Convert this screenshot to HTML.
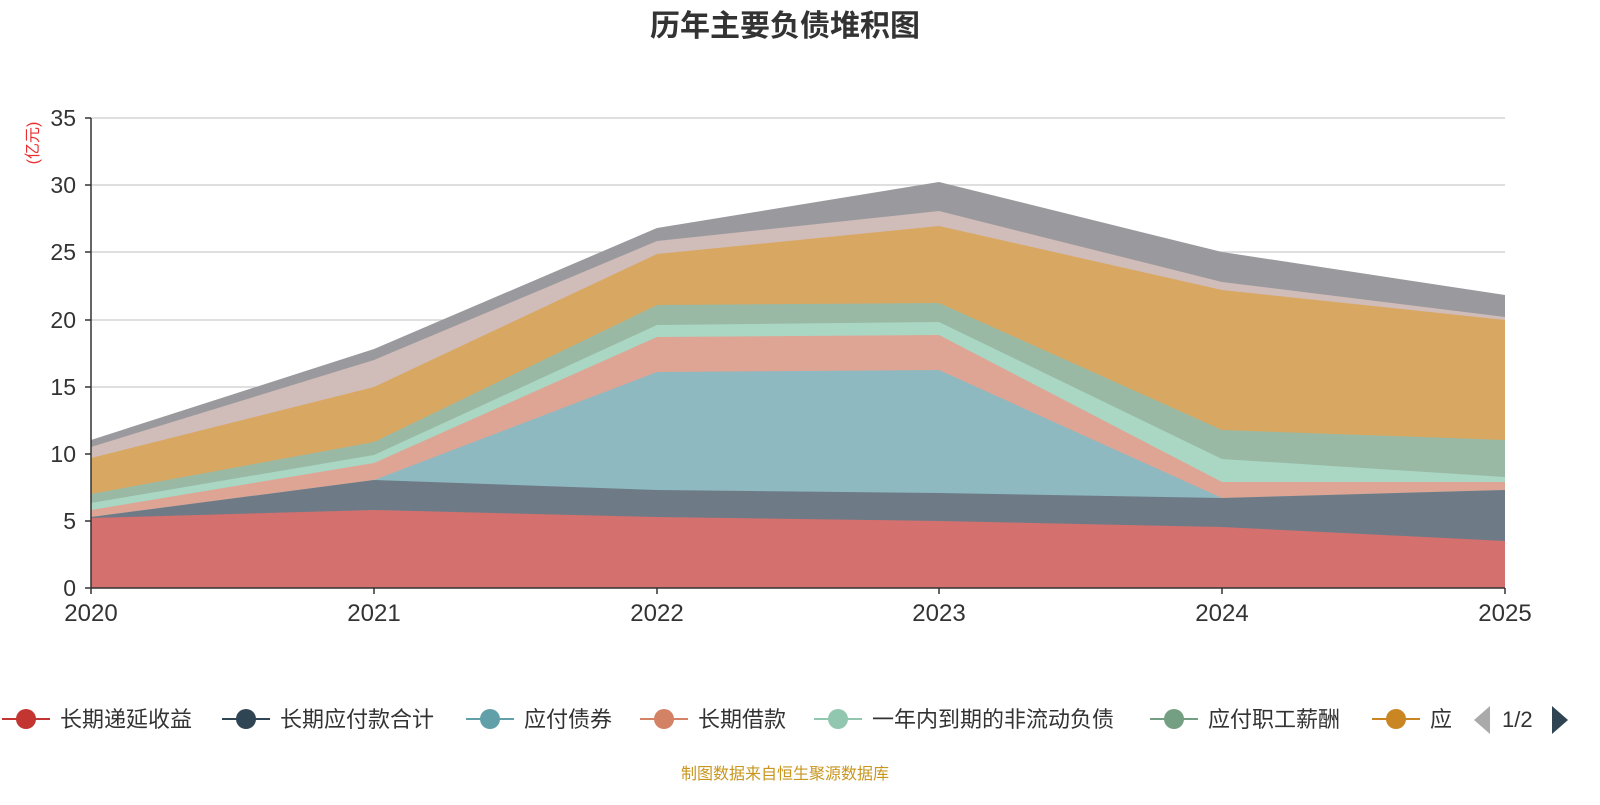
<!DOCTYPE html>
<html><head><meta charset="utf-8"><style>
body{margin:0;background:#fff;width:1600px;height:800px;overflow:hidden;font-family:"Liberation Sans","Noto Sans CJK SC",sans-serif;}
</style></head><body>
<svg width="1600" height="800" xmlns="http://www.w3.org/2000/svg" font-family="Liberation Sans, Noto Sans CJK SC, sans-serif">
<text x="785" y="36" text-anchor="middle" font-size="30" font-weight="bold" fill="#333">历年主要负债堆积图</text>
<text transform="translate(38,143) rotate(-90)" text-anchor="middle" font-size="16" fill="#e83030">(亿元)</text>
<g stroke="#ccc" stroke-width="1.2">
<line x1="91" y1="118" x2="1505" y2="118"/><line x1="91" y1="185" x2="1505" y2="185"/><line x1="91" y1="252" x2="1505" y2="252"/><line x1="91" y1="320" x2="1505" y2="320"/><line x1="91" y1="387" x2="1505" y2="387"/><line x1="91" y1="454" x2="1505" y2="454"/><line x1="91" y1="521" x2="1505" y2="521"/>
</g>
<g>
<polygon fill="#9a9a9e" points="91,440 374,349 657,228 939,182 1222,252 1505,295 1505,588 91,588"/>
<polygon fill="#d0bcb8" points="91,447 374,360 657,241 939,211 1222,282 1505,317 1505,588 91,588"/>
<polygon fill="#d8a862" points="91,458 374,387 657,254 939,226 1222,290 1505,320 1505,588 91,588"/>
<polygon fill="#99b9a4" points="91,494 374,442 657,305 939,303 1222,430 1505,440 1505,588 91,588"/>
<polygon fill="#aad6c4" points="91,503 374,455 657,325 939,322 1222,459 1505,477 1505,588 91,588"/>
<polygon fill="#dea594" points="91,510 374,463 657,337 939,335 1222,482 1505,482 1505,588 91,588"/>
<polygon fill="#8fb9c0" points="91,517 374,480 657,372 939,370 1222,498 1505,490 1505,588 91,588"/>
<polygon fill="#6e7b87" points="91,517 374,480 657,490 939,493 1222,498 1505,490 1505,588 91,588"/>
<polygon fill="#d4706e" points="91,518 374,510 657,517 939,521 1222,527 1505,541 1505,588 91,588"/>
</g>
<g stroke="#333" stroke-width="1.5">
<line x1="91" y1="118" x2="91" y2="588"/><line x1="91" y1="588" x2="1505" y2="588"/>
<line x1="85" y1="118" x2="91" y2="118"/><line x1="85" y1="185" x2="91" y2="185"/><line x1="85" y1="252" x2="91" y2="252"/><line x1="85" y1="320" x2="91" y2="320"/><line x1="85" y1="387" x2="91" y2="387"/><line x1="85" y1="454" x2="91" y2="454"/><line x1="85" y1="521" x2="91" y2="521"/><line x1="85" y1="588" x2="91" y2="588"/>
<line x1="91" y1="588" x2="91" y2="594"/><line x1="374" y1="588" x2="374" y2="594"/><line x1="657" y1="588" x2="657" y2="594"/><line x1="939" y1="588" x2="939" y2="594"/><line x1="1222" y1="588" x2="1222" y2="594"/><line x1="1505" y1="588" x2="1505" y2="594"/>
</g>
<g font-size="23" fill="#333" text-anchor="end">
<text x="76" y="126">35</text><text x="76" y="193">30</text><text x="76" y="260">25</text><text x="76" y="328">20</text><text x="76" y="395">15</text><text x="76" y="462">10</text><text x="76" y="529">5</text><text x="76" y="596">0</text>
</g>
<g font-size="24" fill="#333" text-anchor="middle">
<text x="91" y="621">2020</text><text x="374" y="621">2021</text><text x="657" y="621">2022</text><text x="939" y="621">2023</text><text x="1222" y="621">2024</text><text x="1505" y="621">2025</text>
</g>
<g font-size="22" fill="#333">
<line x1="2" y1="719" x2="50" y2="719" stroke="#c23531" stroke-width="2"/><circle cx="26" cy="719" r="10" fill="#c23531"/><text x="60" y="727">长期递延收益</text>
<line x1="222" y1="719" x2="270" y2="719" stroke="#2f4554" stroke-width="2"/><circle cx="246" cy="719" r="10" fill="#2f4554"/><text x="280" y="727">长期应付款合计</text>
<line x1="466" y1="719" x2="514" y2="719" stroke="#61a0a8" stroke-width="2"/><circle cx="490" cy="719" r="10" fill="#61a0a8"/><text x="524" y="727">应付债券</text>
<line x1="640" y1="719" x2="688" y2="719" stroke="#d48265" stroke-width="2"/><circle cx="664" cy="719" r="10" fill="#d48265"/><text x="698" y="727">长期借款</text>
<line x1="814" y1="719" x2="862" y2="719" stroke="#91c7ae" stroke-width="2"/><circle cx="838" cy="719" r="10" fill="#91c7ae"/><text x="872" y="727">一年内到期的非流动负债</text>
<line x1="1150" y1="719" x2="1198" y2="719" stroke="#749f83" stroke-width="2"/><circle cx="1174" cy="719" r="10" fill="#749f83"/><text x="1208" y="727">应付职工薪酬</text>
<line x1="1372" y1="719" x2="1420" y2="719" stroke="#ca8622" stroke-width="2"/><circle cx="1396" cy="719" r="10" fill="#ca8622"/><text x="1430" y="727">应</text>
<polygon points="1490,706 1490,734 1474,720" fill="#aaa"/>
<text x="1502" y="727">1/2</text>
<polygon points="1552,706 1552,734 1568,720" fill="#2f4554"/>
</g>
<text x="785" y="779" text-anchor="middle" font-size="16" fill="#c8961e">制图数据来自恒生聚源数据库</text>
</svg>
</body></html>
